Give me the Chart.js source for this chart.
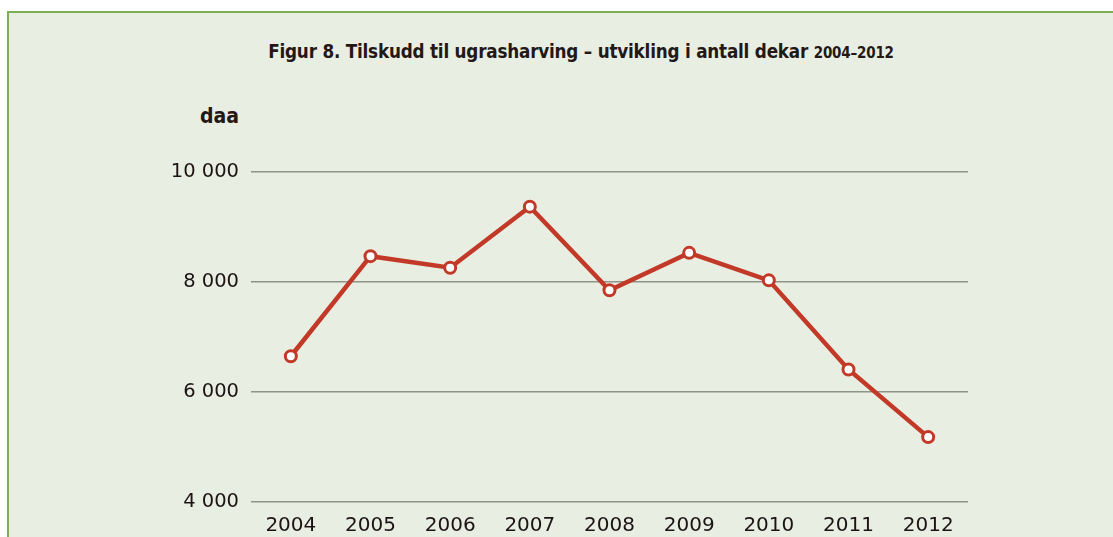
<!DOCTYPE html>
<html lang="no">
<head>
    <meta charset="UTF-8">
    <title>Figur 8. Tilskudd til ugrasharving</title>
    <script src="https://cdn.jsdelivr.net/npm/chart.js"></script>
    <style>
        body {
            margin: 0;
            background: #ffffff;
            width: 1113px;
            height: 537px;
            overflow: hidden;
            position: relative;
        }
        /* the green panel behind the chart */
        .panel {
            position: absolute;
            left: 7px;
            top: 11px;
            right: 0;
            bottom: 0;
            background: #e9eee3;
            border-left: 2px solid #7dae54;
            border-top: 2px solid #7dae54;
        }
        .title {
            position: absolute;
            left: 0;
            width: 1162px;
            top: 41px;
            text-align: center;
            font-family: "Liberation Sans Narrow", "DejaVu Sans Condensed", sans-serif;
            font-weight: bold;
            font-size: 18.7px;
            color: #231815;
            letter-spacing: -0.2px;
        }
        .title small {
            font-size: 15px;
        }
        .unit {
            position: absolute;
            right: calc(1113px - 239px);
            top: 104px;
            font-family: "Liberation Sans Narrow", "DejaVu Sans Condensed", sans-serif;
            font-weight: bold;
            font-size: 21px;
            color: #231815;
        }
        #wrap {
            position: absolute;
            left: 0;
            top: 0;
            width: 1113px;
            height: 537px;
        }
    </style>
</head>
<body>
    <div class="panel"></div>
    <div class="title">Figur 8. Tilskudd til ugrasharving – utvikling i antall dekar <small>2004–2012</small></div>
    <div class="unit">daa</div>
    <div id="wrap"><canvas id="chart"></canvas></div>

    <script>
        // data
        const years = ['2004', '2005', '2006', '2007', '2008', '2009', '2010', '2011', '2012'];
        const areaDaa = [6650, 8470, 8260, 9370, 7850, 8530, 8030, 6410, 5180];
        const yTicks = [4000, 6000, 8000, 10000];

        const textColor = '#1c1413';

        // "10 000" style labels
        function spaced(v) {
            return String(v).replace(/\B(?=(\d{3})+(?!\d))/g, ' ');
        }

        new Chart(document.getElementById('chart'), {
            type: 'line',
            data: {
                labels: years,
                datasets: [{
                    data: areaDaa,
                    borderColor: '#c23a27',
                    borderWidth: 4.5,
                    pointRadius: 5.5,
                    pointBorderWidth: 3,
                    pointBackgroundColor: '#ffffff',
                    pointBorderColor: '#c23a27',
                    tension: 0
                }]
            },
            options: {
                responsive: true,
                maintainAspectRatio: false,
                animation: false,
                layout: {
                    padding: { left: 0, right: 145, top: 172, bottom: 0 }
                },
                plugins: {
                    legend: { display: false },
                    tooltip: { enabled: false }
                },
                scales: {
                    x: {
                        offset: true,
                        grid: { display: false },
                        border: { display: false },
                        ticks: {
                            color: textColor,
                            font: { family: '"DejaVu Sans", sans-serif', size: 20 },
                            padding: 4,
                            maxRotation: 0
                        },
                        afterFit: (s) => { s.height = 35; }
                    },
                    y: {
                        min: 4000,
                        max: 10000,
                        afterBuildTicks: (s) => {
                            s.ticks = yTicks.map(v => ({ value: v }));
                        },
                        grid: {
                            color: '#8f9489',
                            lineWidth: 1.5,
                            drawTicks: false
                        },
                        border: { display: false },
                        ticks: {
                            color: textColor,
                            font: { family: '"DejaVu Sans", sans-serif', size: 19.5 },
                            padding: 12,
                            callback: (v) => spaced(v)
                        },
                        afterFit: (s) => { s.width = 251; }
                    }
                }
            }
        });
    </script>
</body>
</html>
